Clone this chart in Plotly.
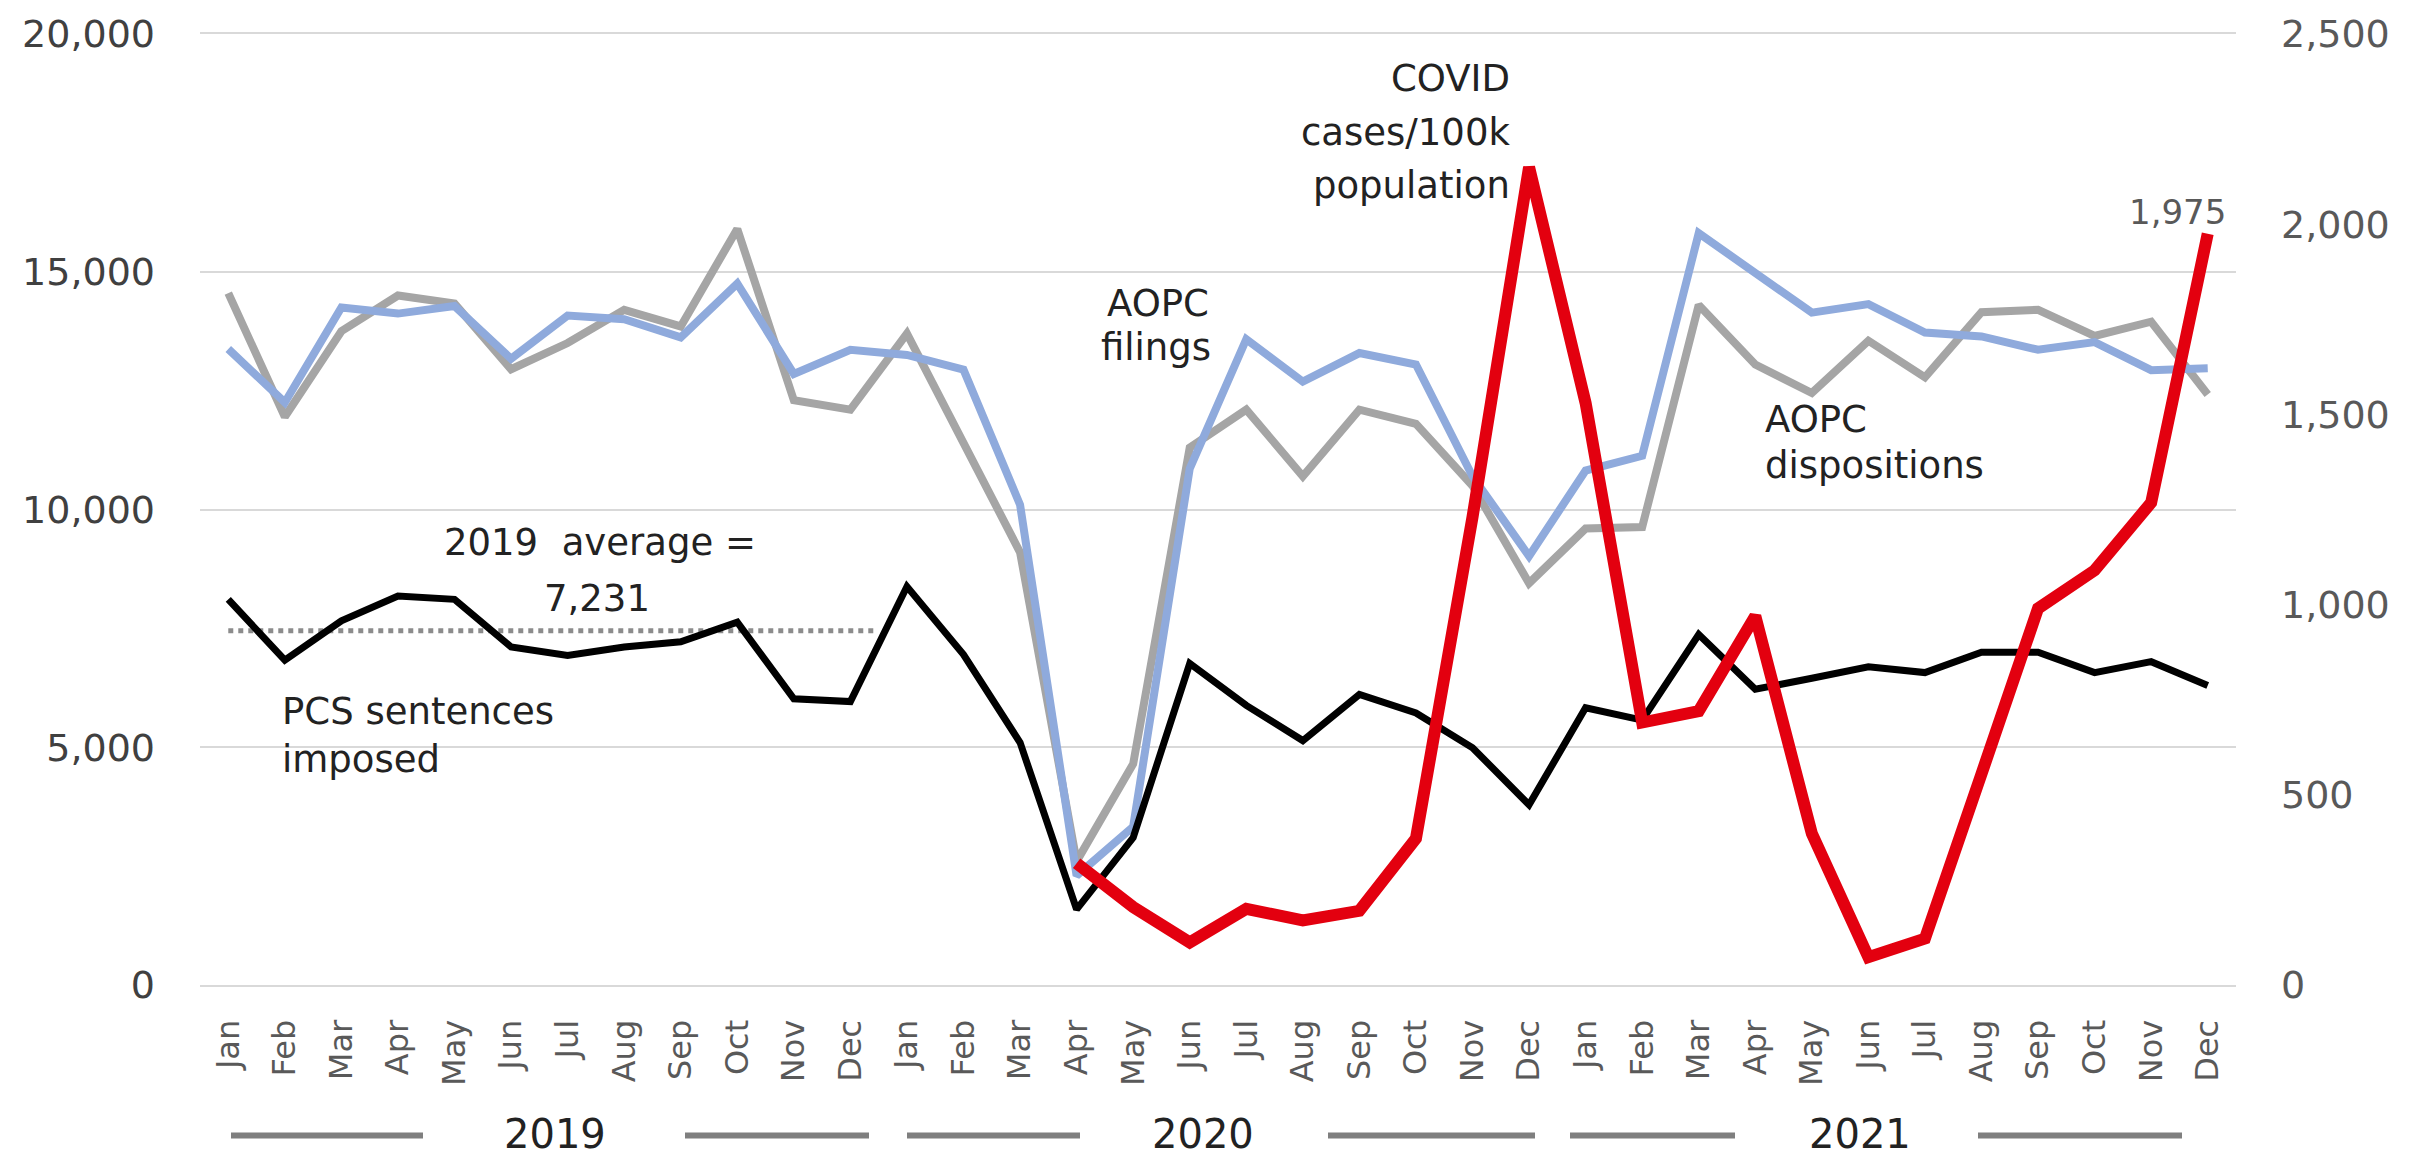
import plotly.graph_objects as go

# ---------------- data ----------------
months = ["Jan", "Feb", "Mar", "Apr", "May", "Jun", "Jul", "Aug", "Sep", "Oct", "Nov", "Dec"]
years = ["2019", "2020", "2021"]
month_labels = months * 3
x_idx = list(range(len(month_labels)))

aopc_dispositions = [
    14550, 11950, 13750, 14500, 14330, 12950, 13500, 14200, 13850, 15900, 12300, 12100,
    13700, 11400, 9100, 2600, 4650, 11300, 12100, 10700, 12100, 11800, 10500, 8450,
    9600, 9630, 14300, 13050, 12450, 13550, 12780, 14150, 14200, 13650, 13950, 12420,
]
aopc_filings = [
    13375, 12250, 14250, 14120, 14280, 13170, 14080, 14000, 13620, 14750, 12850, 13360,
    13250, 12940, 10100, 2300, 3330, 10860, 13580, 12690, 13290, 13050, 10700, 9020,
    10820, 11130, 15810, 14990, 14140, 14320, 13720, 13640, 13360, 13520, 12930, 12970,
]
pcs_sentences = [
    8110, 6830, 7660, 8180, 8110, 7110, 6930, 7110, 7220, 7630, 6020, 5960,
    8380, 6950, 5100, 1590, 3100, 6760, 5880, 5140, 6110, 5720, 4990, 3790,
    5830, 5570, 7370, 6220, 6450, 6690, 6570, 7000, 7000, 6570, 6800, 6300,
]
covid_cases = [None] * 15 + [
    320, 205, 112, 200, 170, 195, 385, 1230, 2150,
    1530, 690, 720, 970, 398, 73, 122, 555, 990, 1090, 1268, 1975,
]
avg_2019_text = "7,231"
avg_line_level = 7450          # level at which the dotted average line is drawn
avg_line_span = [0, 11.45]     # Jan 2019 -> just past Dec 2019
last_covid_label = "1,975"

# ---------------- figure ----------------
FONT = "DejaVu Sans"
W, H = 2422, 1162
L, R, T, B = 200, 2236, 24, 985   # plot-area pixel box


def px(xp, yp):
    return (xp - L) / (R - L), (B - yp) / (B - T)


fig = go.Figure()

fig.add_trace(go.Scatter(x=avg_line_span, y=[avg_line_level] * 2, mode="lines",
                         line=dict(color="#8C8C8C", width=5, dash="dot"),
                         hoverinfo="skip"))
fig.add_trace(go.Scatter(x=x_idx, y=aopc_dispositions, mode="lines", name="AOPC dispositions",
                         line=dict(color="#A5A5A5", width=8)))
fig.add_trace(go.Scatter(x=x_idx, y=aopc_filings, mode="lines", name="AOPC filings",
                         line=dict(color="#8FAADC", width=8)))
fig.add_trace(go.Scatter(x=x_idx, y=pcs_sentences, mode="lines", name="PCS sentences imposed",
                         line=dict(color="#000000", width=7)))
fig.add_trace(go.Scatter(x=x_idx, y=covid_cases, mode="lines", name="COVID cases/100k population",
                         line=dict(color="#E3000F", width=12), yaxis="y2"))

annos = []


def txt(text, xp, yp, xanchor="center", size=37, color="#222222", yanchor="middle"):
    xx, yy = px(xp, yp)
    annos.append(dict(text=text, x=xx, y=yy, xref="paper", yref="paper",
                      xanchor=xanchor, yanchor=yanchor, showarrow=False,
                      font=dict(family=FONT, size=size, color=color)))


txt("2019\u00a0 average =", 600, 538)
txt(avg_2019_text, 597, 594)
txt("PCS sentences", 280, 709, "left")
txt("imposed", 280, 757, "left")
txt("AOPC", 1158, 296)
txt("filings", 1156, 341)
txt("COVID", 1512, 69, "right")
txt("cases/100k", 1512, 124, "right")
txt("population", 1512, 177, "right")
txt("AOPC", 1763, 414, "left")
txt("dispositions", 1763, 460, "left")
txt(last_covid_label, 2228, 204, "right", size=34, color="#595959")

# year group labels and rules
year_centers = [555, 1203, 1860]
year_rules = [(231, 423), (685, 869), (907, 1080), (1328, 1535), (1570, 1735), (1978, 2182)]
for yr, cx in zip(years, year_centers):
    txt(yr, cx, 1161, size=40, color="#222222", yanchor="bottom")
shapes = []
for x0, x1 in year_rules:
    a, yy = px(x0, 1137)
    b, _ = px(x1, 1137)
    shapes.append(dict(type="line", xref="paper", yref="paper", x0=a, x1=b, y0=yy, y1=yy,
                       line=dict(color="#7F7F7F", width=6)))

fig.update_layout(
    width=W, height=H, autosize=False,
    margin=dict(l=L, r=W - R, t=T, b=H - B, pad=0),
    paper_bgcolor="white", plot_bgcolor="white",
    showlegend=False,
    font=dict(family=FONT, color="#404040"),
    annotations=annos, shapes=shapes,
    xaxis=dict(range=[-0.5, 35.5], tickmode="array", tickvals=x_idx, ticktext=month_labels,
               tickangle=-90, tickfont=dict(size=32, color="#595959"),
               showgrid=False, zeroline=False, ticks="",
               showline=True, mirror=True, linecolor="#D9D9D9", linewidth=2,
               ticklabelstandoff=20, fixedrange=True),
    yaxis=dict(range=[0, 20000], dtick=5000, tickformat=",", gridcolor="#D9D9D9", gridwidth=2,
               zeroline=False, showline=False, ticks="",
               tickfont=dict(size=38, color="#404040"), ticklabelstandoff=44),
    yaxis2=dict(range=[0, 2500], dtick=500, tickformat=",", overlaying="y", side="right",
                showgrid=False, zeroline=False, showline=False, ticks="",
                tickfont=dict(size=38, color="#595959"), ticklabelstandoff=44),
)

fig.write_html(
    "out.html",
    config={"displayModeBar": False},
    post_script="document.body.style.margin='0';document.body.style.overflow='hidden';",
)
